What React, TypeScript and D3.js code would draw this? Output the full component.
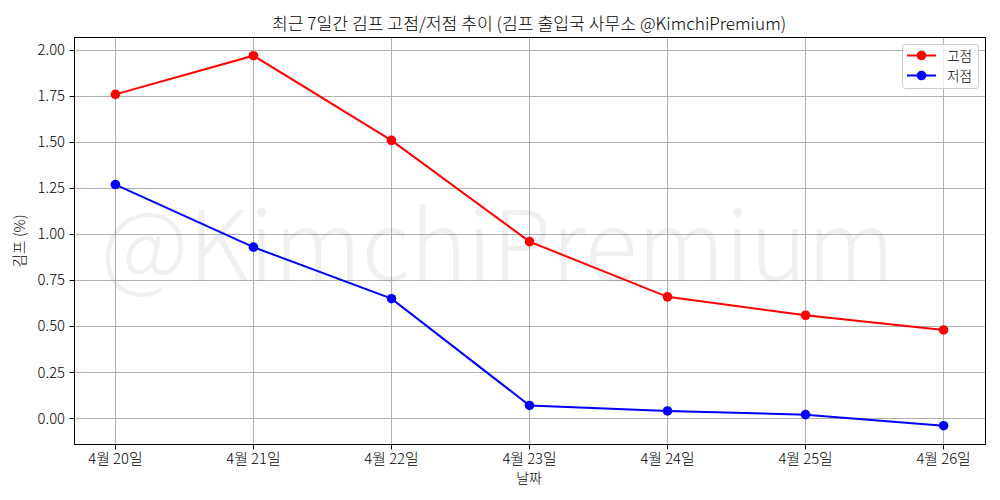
import React from 'react'
import * as d3 from 'd3'

const dates = ['4월 20일', '4월 21일', '4월 22일', '4월 23일', '4월 24일', '4월 25일', '4월 26일']
const highs = [1.76, 1.97, 1.51, 0.96, 0.66, 0.56, 0.48]
const lows = [1.27, 0.93, 0.65, 0.07, 0.04, 0.02, -0.04]
const yTicks = [0, 0.25, 0.5, 0.75, 1, 1.25, 1.5, 1.75, 2]

const FONT = '"Noto Sans CJK KR", "Noto Sans", sans-serif'
const left = 74.5
const right = 985.5
const top = 37.5
const bottom = 444.5

const xScale = d3.scaleLinear().domain([-0.3, 6.3]).range([74, 985])
const yScale = d3.scaleLinear().domain([-0.1405, 2.0705]).range([444.2, 37.2])

// grid and ticks land on whole pixels
const snap = (v: number) => Math.floor(v) + 0.5

const lineGen = d3
  .line<number>()
  .x((_, i) => xScale(i))
  .y(d => yScale(d))

const series = [
  {name: '고점', values: highs, color: '#ff0000'},
  {name: '저점', values: lows, color: '#0000ff'},
]

function App() {
  return (
    <svg
      width={1000}
      height={500}
      style={{position: 'absolute', left: 0, top: 0, background: '#fff'}}
      fontFamily={FONT}
      fontWeight={300}>
      {/* grid */}
      {dates.map((_, i) => (
        <line key={i} x1={snap(xScale(i))} x2={snap(xScale(i))} y1={top} y2={bottom} stroke="#b0b0b0" strokeWidth={1} />
      ))}
      {yTicks.map(t => (
        <line key={t} x1={left} x2={right} y1={snap(yScale(t))} y2={snap(yScale(t))} stroke="#b0b0b0" strokeWidth={1} />
      ))}

      {/* watermark */}
      <text
        x={497.5}
        y={281}
        textAnchor="middle"
        fontSize={97}
        fill="#808080"
        fillOpacity={0.12}>
        @KimchiPremium
      </text>

      {series.map(s => (
        <g key={s.name}>
          <path d={lineGen(s.values) as string} fill="none" stroke={s.color} strokeWidth={2} />
          {s.values.map((v, i) => (
            <circle key={i} cx={xScale(i)} cy={yScale(v)} r={4.8} fill={s.color} />
          ))}
        </g>
      ))}

      {/* frame */}
      <rect x={left} y={top} width={right - left} height={bottom - top} fill="none" stroke="#000" strokeWidth={1} />

      {/* ticks */}
      {dates.map((d, i) => (
        <g key={d}>
          <line x1={snap(xScale(i))} x2={snap(xScale(i))} y1={bottom} y2={bottom + 4.9} stroke="#000" strokeWidth={1} />
          <text x={xScale(i)} y={463.5} textAnchor="middle" fontSize={14.8} fill="#000">
            {d}
          </text>
        </g>
      ))}
      {yTicks.map(t => (
        <g key={t}>
          <line x1={left - 4.9} x2={left} y1={snap(yScale(t))} y2={snap(yScale(t))} stroke="#000" strokeWidth={1} />
          <text x={left - 9.5} y={yScale(t) + 5.2} textAnchor="end" fontSize={14.8} fill="#000">
            {d3.format('.2f')(t)}
          </text>
        </g>
      ))}

      <text x={529} y={30} textAnchor="middle" fontSize={17.2} fill="#000">
        최근 7일간 김프 고점/저점 추이 (김프 출입국 사무소 @KimchiPremium)
      </text>
      <text x={529} y={483} textAnchor="middle" fontSize={13.9} fill="#000">
        날짜
      </text>
      <text
        transform={`translate(24.5,${(top + bottom) / 2}) rotate(-90)`}
        textAnchor="middle"
        fontSize={14.8}
        fill="#000">
        김프 (%)
      </text>

      {/* legend */}
      <rect x={902.5} y={44.5} width={76} height={44} rx={3} fill="#fff" fillOpacity={0.8} stroke="#ccc" />
      {series.map((s, i) => (
        <g key={s.name}>
          <line x1={907} x2={936} y1={55.5 + i * 20} y2={55.5 + i * 20} stroke={s.color} strokeWidth={2} />
          <circle cx={921.5} cy={55.5 + i * 20} r={4.8} fill={s.color} />
          <text x={947} y={60.5 + i * 20} fontSize={13.6} fill="#000">
            {s.name}
          </text>
        </g>
      ))}
    </svg>
  )
}

export default App
